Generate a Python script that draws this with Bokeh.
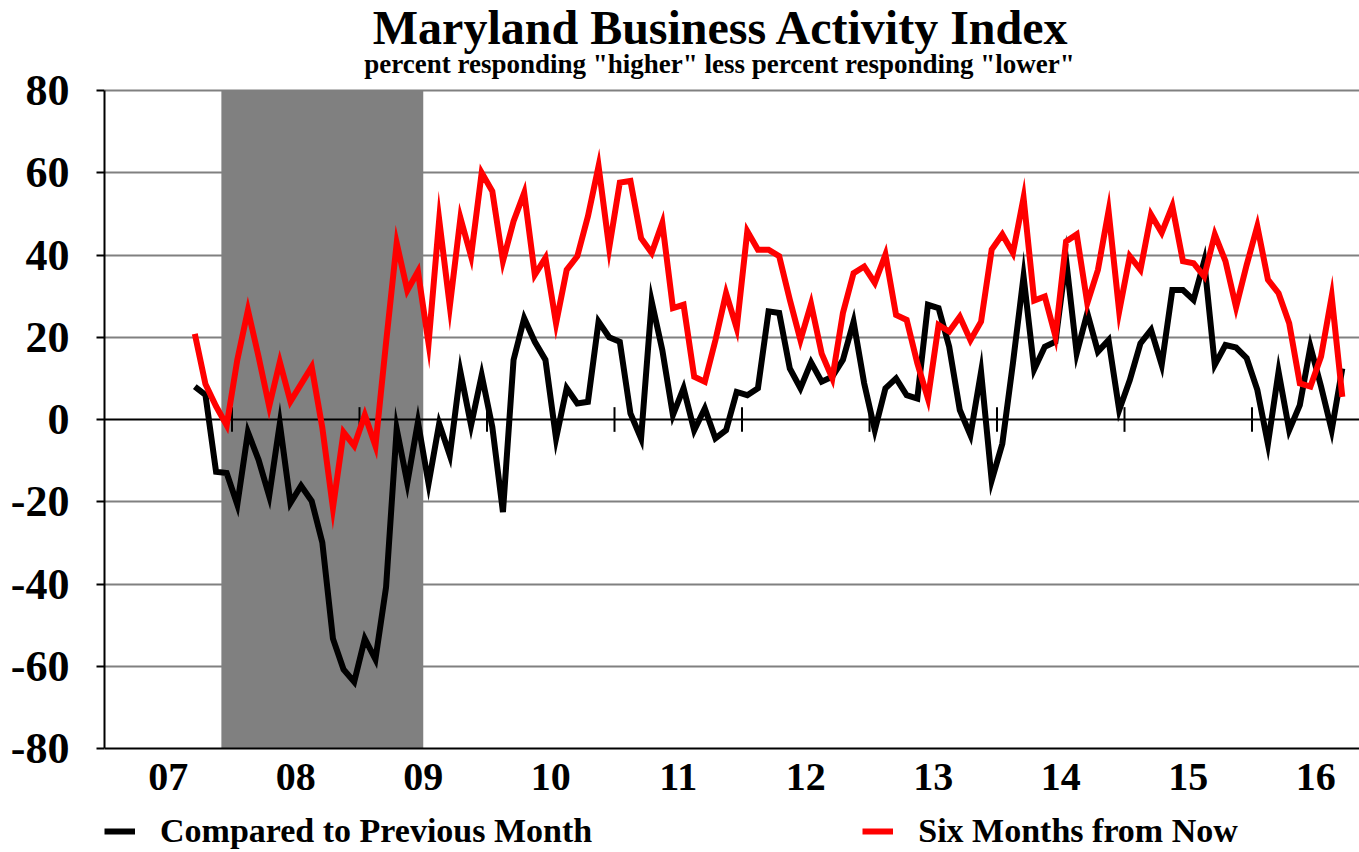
from bokeh.plotting import figure
from bokeh.models import (FixedTicker, Legend, LegendItem, Span,
                          BoxAnnotation, Range1d, ColumnDataSource)
from bokeh.core.properties import value
from bokeh.embed import file_html
from bokeh.resources import INLINE

# ---------------- data ----------------
first_month = "2007-09"   # first observation (monthly series)

compared_prev = [
    8, 6, -12.7, -13, -20.7, -3.1, -9.8, -18.6, -1, -20.3, -16.1, -19.8,
    -29.9, -53.3, -60.8, -63.8, -53.3, -58.3, -40.8, -2.3, -15.4, -0.6, -15.6, -1,
    -8.7, 11.6, -1.4, 10.8, -1.8, -22.5, 14.5, 24.6, 18.9, 14.5, -4.6, 7.6,
    3.9, 4.3, 23.8, 20, 18.9, 1.5, -4.6, 28.7, 16.9, 1.1, 7.6, -2.6,
    2.7, -4.6, -2.6, 6.7, 5.9, 7.6, 26.3, 25.9, 12.4, 7.6, 13.9, 9.2,
    10.4, 14.5, 23.8, 8.8, -2.6, 7.6, 10, 5.9, 5.1, 27.9, 27.1, 17.7,
    2.3, -3.8, 11.6, -14.8, -5.9, 13.7, 34.8, 12.2, 17.7, 18.9, 38.9, 16.1,
    25.9, 16.5, 19.3, 2.3, 9.6, 18.5, 21.8, 13.3, 31.5, 31.5, 29.1, 38.5,
    13.3, 18.1, 17.5, 14.9, 7.2, -5.9, 11.6, -2.6, 3.5, 17.7, 8, -2.6,
    12.4,
]

six_months = [
    20.8, 8.6, 3.2, -1.4, 14.5, 26.6, 15.3, 3.2, 14, 4.4, 8.6, 12.8,
    -2, -21.5, -3.1, -6.4, 1.1, -6.4, 18.7, 42.9, 31.4, 36, 18.5, 48.6,
    27.5, 49, 39.7, 60, 55.5, 38.5, 48.2, 55.1, 35.2, 39.3, 23.4, 36.4,
    39.7, 49.4, 61.6, 41.7, 57.6, 58, 44.1, 40.5, 47.8, 27.1, 27.9, 10.4,
    9.2, 19.3, 30.7, 22.2, 45.8, 41.3, 41.3, 39.7, 29.1, 19.3, 28.1, 16,
    10, 25.9, 35.6, 37.2, 33.2, 40.1, 25.4, 24.2, 13.7, 5.1, 23, 21.4,
    25, 19.3, 23.8, 41.3, 45, 40.5, 53.9, 28.9, 29.9, 20.2, 43.3, 45,
    28.3, 36.4, 50.7, 26.3, 39.7, 36.4, 49.8, 45.4, 51.9, 38.5, 38, 34.8,
    45, 38.5, 27.3, 37.6, 47, 34, 30.7, 23.4, 8.8, 8, 15.3, 29.9,
    5.5,
]

year_labels = ["07", "08", "09", "10", "11", "12", "13", "14", "15", "16"]
y_ticks = [-80, -60, -40, -20, 0, 20, 40, 60, 80]
recession_start = "2007-12"   # first month of recession
recession_end = "2009-06"     # last month of recession

title_text = "Maryland Business Activity Index"
subtitle_text = 'percent responding "higher" less percent responding "lower"'
series_names = ["Compared to Previous Month", "Six Months from Now"]

# ---------------- layout constants (pixels) ----------------
FONT = "Liberation Serif"
W, H = 1359, 850
LEFT = 104                 # frame left edge
TOP_PX, BOT_PX = 90, 748   # where +80 and -80 sit
PX_PER_YEAR = 127.5
y_min_axis, y_max_axis = y_ticks[0], y_ticks[-1]
PX_PER_UNIT = (BOT_PX - TOP_PX) / (y_max_axis - y_min_axis)

def px_to_y(py):
    return y_max_axis + (TOP_PX - py) / PX_PER_UNIT

def px_to_x(px):
    return x_start + (px - LEFT) / PX_PER_YEAR

# ---------------- derived positions ----------------
def month_start(ym):
    y, m = map(int, ym.split("-"))
    return y + (m - 1) / 12.0

x0 = month_start(first_month)
xs = [x0 + (i + 0.5) / 12.0 for i in range(len(compared_prev))]
year_vals = [2000 + int(s) for s in year_labels]
label_pos = [y + 0.5 for y in year_vals]
boundaries = year_vals[1:]
rec_left = month_start(recession_start)
rec_right = month_start(recession_end) + 1 / 12.0

x_start = year_vals[0]
x_end = px_to_x(W)
y_top = px_to_y(0)
y_bot = px_to_y(H)

p = figure(width=W, height=H, output_backend="svg", toolbar_location=None,
           x_range=Range1d(x_start, x_end), y_range=Range1d(y_bot, y_top),
           min_border_left=LEFT, min_border_right=0, min_border_top=0,
           min_border_bottom=0, title_location=None)
p.outline_line_color = None
p.background_fill_color = "white"
p.border_fill_color = "white"
p.xaxis.visible = False

# grid
p.xgrid.visible = False
p.ygrid.ticker = FixedTicker(ticks=[t for t in y_ticks if t not in (0, y_min_axis)])
p.ygrid.grid_line_color = "#808080"
p.ygrid.grid_line_width = 2

# recession shading
p.add_layout(BoxAnnotation(left=rec_left, right=rec_right, bottom=y_min_axis,
                           top=y_max_axis, fill_color="#808080",
                           fill_alpha=1.0, line_color=None, level="underlay"))
# zero line and bottom axis line
p.add_layout(Span(location=0, dimension="width", line_color="black",
                  line_width=2, level="underlay"))
p.add_layout(Span(location=y_min_axis, dimension="width", line_color="black",
                  line_width=2, level="underlay"))

# y axis
p.yaxis.bounds = (y_min_axis, y_max_axis)
p.yaxis.ticker = FixedTicker(ticks=y_ticks)
p.yaxis.major_label_overrides = {t: str(t) for t in y_ticks}
p.yaxis.major_label_text_font = FONT
p.yaxis.major_label_text_font_size = "44px"
p.yaxis.major_label_text_font_style = "bold"
p.yaxis.major_label_text_color = "black"
p.yaxis.major_tick_in = 0
p.yaxis.major_tick_out = 8
p.yaxis.minor_tick_line_color = None
p.yaxis.major_label_standoff = 27
p.yaxis.axis_line_color = "black"
p.yaxis.axis_line_width = 2
p.yaxis.major_tick_line_color = "black"
p.yaxis.major_tick_line_width = 2

# x (year) labels under the -80 line
p.text(x=label_pos, y=[px_to_y(776)] * len(label_pos), text=year_labels,
       text_font=value(FONT), text_font_size="40px", text_font_style="bold",
       text_color="black", text_align="center", text_baseline="alphabetic")

# title and subtitle
p.text(x=[px_to_x(721)], y=[px_to_y(27)], text=[title_text],
       text_font=value(FONT), text_font_size="48px", text_font_style="bold",
       text_color="black", text_align="center", text_baseline="alphabetic")
p.text(x=[px_to_x(719)], y=[px_to_y(63)], text=[subtitle_text],
       text_font=value(FONT), text_font_size="27px", text_font_style="bold",
       text_color="black", text_align="center", text_baseline="alphabetic")

# tick marks crossing the zero line at year boundaries
tick_src = ColumnDataSource(dict(x=boundaries, y0=[-3] * len(boundaries),
                                 y1=[3] * len(boundaries)))
p.segment(x0="x", x1="x", y0="y0", y1="y1", source=tick_src,
          line_color="black", line_width=2)

src = ColumnDataSource(dict(x=xs, prev=compared_prev, six=six_months))
r1 = p.line("x", "prev", source=src, line_color="black", line_width=6,
            line_join="miter")
r2 = p.line("x", "six", source=src, line_color="#FF0000", line_width=6,
            line_join="miter")

legend = Legend(items=[LegendItem(label=series_names[0], renderers=[r1]),
                       LegendItem(label=series_names[1], renderers=[r2])],
                orientation="horizontal", location=(0, 0),
                glyph_width=31, glyph_height=30, label_standoff=25,
                spacing=270, padding=0, margin=0,
                border_line_color=None, background_fill_alpha=0,
                label_text_font=FONT, label_text_font_size="34px",
                label_text_font_style="bold", label_text_color="black")
p.add_layout(legend, "center")

open("out.html", "w").write(file_html(p, INLINE))
